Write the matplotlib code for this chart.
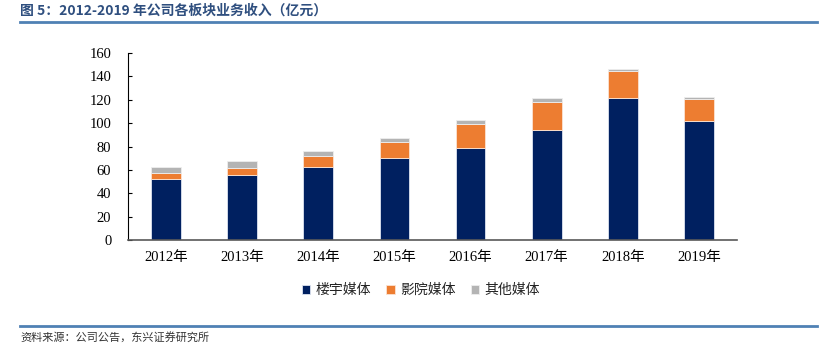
import numpy as np
import matplotlib.pyplot as plt

# revenue by business segment, 100 million yuan
years = ['2012年', '2013年', '2014年', '2015年', '2016年', '2017年', '2018年', '2019年']
building = [51.9, 55.8, 62.4, 70.4, 79.0, 94.4, 121.2, 101.5]
cinema = [5.1, 6.2, 9.2, 13.7, 20.5, 23.9, 23.6, 19.4]
other = [5.4, 5.4, 4.3, 3.2, 3.2, 3.2, 1.5, 1.4]
series_names = ['楼宇媒体', '影院媒体', '其他媒体']

serif = ['Liberation Serif', 'Noto Sans CJK SC']
cjk = ['Noto Sans CJK SC', 'DejaVu Sans']

fig = plt.figure(figsize=(8.33, 3.46), dpi=100)
ax = fig.add_axes([128 / 833, 1 - 240 / 346, (737 - 128) / 833, (240 - 53) / 346])

x = np.arange(len(years))
w = 0.39
b1 = np.array(building)
b2 = b1 + np.array(cinema)
ax.bar(x, building, w, color='#002060', edgecolor='#dde3f0', linewidth=0.6, label=series_names[0])
ax.bar(x, cinema, w, bottom=b1, color='#ED7D31', edgecolor='#fbe3d2', linewidth=0.6, label=series_names[1])
ax.bar(x, other, w, bottom=b2, color='#B4B4B4', edgecolor='#eeeeee', linewidth=0.6, label=series_names[2])

ax.set_xlim(-0.5, len(years) - 0.5)
ax.set_ylim(0, 160)
ax.set_yticks(range(0, 161, 20))
ax.set_xticks(x)
ax.set_xticklabels(years)
for lab in ax.get_xticklabels() + ax.get_yticklabels():
    lab.set_family(serif)
    lab.set_fontsize(10.5)
ax.tick_params(axis='y', direction='in', length=3, pad=12, color='black')
ax.tick_params(axis='x', length=0, pad=8)
ax.spines['top'].set_visible(False)
ax.spines['right'].set_visible(False)
ax.spines['left'].set_color('black')
ax.spines['bottom'].set_color('#595959')
ax.spines['bottom'].set_linewidth(1.2)

leg = ax.legend(loc='center', bbox_to_anchor=(421 / 833, 1 - 290 / 346),
                bbox_transform=fig.transFigure, ncol=3, frameon=False,
                handlelength=0.6, handleheight=0.6, handletextpad=0.4,
                columnspacing=1.1, prop={'family': cjk, 'size': 10})
for t in leg.get_texts():
    t.set_color('#222222')

# header and footer
fig.text(20 / 833, 1 - 11 / 346, '图 5：2012-2019 年公司各板块业务收入（亿元）',
         family=cjk, fontsize=10, fontweight='bold', color='#2f4f7f', va='center')
fig.add_artist(plt.Line2D([20 / 833, 817 / 833], [1 - 22 / 346] * 2, color='#4f81b4', lw=2))
fig.add_artist(plt.Line2D([20 / 833, 817 / 833], [1 - 326 / 346] * 2, color='#4f81b4', lw=2))
fig.text(20 / 833, 1 - 337 / 346, '资料来源：公司公告，东兴证券研究所',
         family=cjk, fontsize=8, style='italic', color='#333333', va='center')

fig.savefig('out.png', dpi=100)
